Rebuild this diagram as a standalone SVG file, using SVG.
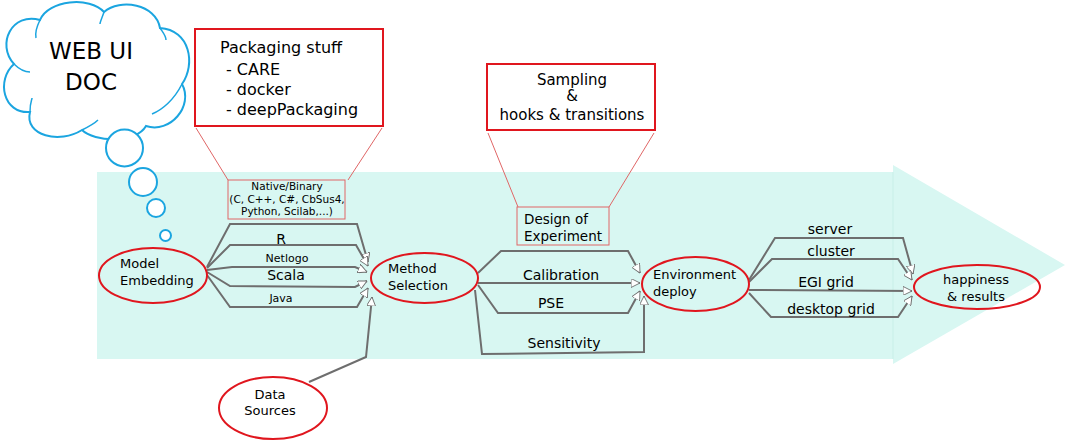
<svg xmlns="http://www.w3.org/2000/svg" width="1066" height="441" viewBox="0 0 1066 441">
<style>
text{font-family:"DejaVu Sans","Liberation Sans",sans-serif;fill:#000}
.node ellipse{fill:none;stroke:#e0161e;stroke-width:2}
.box{fill:none;stroke:#e0161e;stroke-width:2}
.thin{fill:none;stroke:#e06666;stroke-width:1}
.con{fill:none;stroke:#6e6e6e;stroke-width:2;marker-end:url(#ar)}
.bub{fill:#fff;stroke:#1ba5e0;stroke-width:2}
</style>
<defs>
<marker id="ar" viewBox="0 0 10 10" refX="10" refY="5" markerWidth="9" markerHeight="9" markerUnits="userSpaceOnUse" orient="auto">
<path d="M0,0 L10,5 L0,10 Z" fill="#fff" stroke="#6e6e6e" stroke-width="1"/>
</marker>
</defs>
<g id="bigarrow">
<rect x="97" y="172" width="796" height="187" fill="#d8f7f2"/>
<polygon points="893,165 1065,265 893,364" fill="#d8f7f2"/>
<line x1="893" y1="172" x2="893" y2="359" stroke="#c8efe8" stroke-width="1"/>
</g>
<g id="cloud">
<path class="bub" d="M30,112 C3,114 -4,80 14,64 C-4,44 12,12 40,20 C48,0 90,-4 104,12 C120,-2 156,4 160,28 C190,30 196,64 182,84 C194,106 170,134 146,126 C136,144 94,142 82,130 C60,144 24,136 30,112 Z"/>
<path fill="none" stroke="#1ba5e0" stroke-width="1.5" d="M14,64 C20,70 26,72 30,72 M40,20 C36,28 35,33 36,38 M104,12 C102,18 100,22 100,24 M160,28 C164,34 166,36 166,40 M182,84 C174,100 162,110 152,114 M82,130 C90,126 96,122 98,120 M30,112 C30,102 32,100 32,98"/>
<text x="91" y="59" font-size="23" text-anchor="middle">WEB UI</text>
<text x="91" y="90" font-size="23" text-anchor="middle">DOC</text>
<circle class="bub" cx="124.5" cy="148" r="18.5"/>
<circle class="bub" cx="143" cy="182" r="14"/>
<circle class="bub" cx="156" cy="208" r="9"/>
<circle class="bub" cx="165.5" cy="235.5" r="5.5"/>
</g>
<g id="packaging">
<rect class="box" x="195" y="29" width="188" height="97"/>
<text x="220" y="53" font-size="16">Packaging stuff</text>
<text x="226" y="75" font-size="16">- CARE</text>
<text x="226" y="95" font-size="16">- docker</text>
<text x="226" y="115" font-size="16">- deepPackaging</text>
<line class="thin" x1="196" y1="128" x2="228" y2="180"/>
<line class="thin" x1="382" y1="128" x2="348" y2="180"/>
</g>
<g id="native">
<rect class="thin" x="228" y="180" width="117" height="39"/>
<text x="287" y="190" font-size="10.5" text-anchor="middle">Native/Binary</text>
<text x="287" y="202.5" font-size="10.5" text-anchor="middle">(C, C++, C#, CbSus4,</text>
<text x="287" y="215" font-size="10.5" text-anchor="middle">Python, Scilab,...)</text>
</g>
<g id="sampling">
<rect class="box" x="487" y="64" width="168" height="66"/>
<text x="572" y="85" font-size="15" text-anchor="middle">Sampling</text>
<text x="572" y="101" font-size="15" text-anchor="middle">&amp;</text>
<text x="572" y="120" font-size="15" text-anchor="middle">hooks &amp; transitions</text>
<line class="thin" x1="488" y1="133" x2="518" y2="207"/>
<line class="thin" x1="654" y1="133" x2="609" y2="207"/>
</g>
<g id="doe">
<rect class="thin" x="517" y="207" width="92" height="38"/>
<text x="524" y="224" font-size="13.5">Design of</text>
<text x="524" y="241" font-size="13.5">Experiment</text>
</g>
<g id="connectors">
<path class="con" d="M207,267 L230,224 L357,224 L368,262"/>
<path class="con" d="M207,268 L230,245 L356,245 L368,266"/>
<path class="con" d="M207,270 L232,267 L355,267 L367,272"/>
<path class="con" d="M207,272 L230,286 L355,287 L367,281"/>
<path class="con" d="M207,275 L230,307 L357,307 L368,288"/>
<path class="con" d="M309,382 L366,357 L372,297"/>
<path class="con" d="M478,273 L501,251 L628,251 L640,273"/>
<path class="con" d="M478,283 L640,283"/>
<path class="con" d="M478,285 L498,313 L628,313 L640,291"/>
<path class="con" d="M475,290 L482,354 L644,352 L644,296"/>
<path class="con" d="M749,280 L775,238 L903,238 L913,274"/>
<path class="con" d="M749,282 L772,259 L898,259 L912,280"/>
<path class="con" d="M749,290 L912,291"/>
<path class="con" d="M749,293 L771,317 L898,317 L912,296"/>
</g>
<g id="labels">
<text x="281" y="244" font-size="14" text-anchor="middle">R</text>
<text x="287" y="262" font-size="11" text-anchor="middle">Netlogo</text>
<text x="286" y="280" font-size="14" text-anchor="middle">Scala</text>
<text x="281" y="302" font-size="11" text-anchor="middle">Java</text>
<text x="561" y="280" font-size="14" text-anchor="middle">Calibration</text>
<text x="551" y="308" font-size="14" text-anchor="middle">PSE</text>
<text x="564" y="348" font-size="14" text-anchor="middle">Sensitivity</text>
<text x="830" y="234" font-size="14" text-anchor="middle">server</text>
<text x="831" y="256" font-size="14" text-anchor="middle">cluster</text>
<text x="826" y="287" font-size="14" text-anchor="middle">EGI grid</text>
<text x="831" y="314" font-size="14" text-anchor="middle">desktop grid</text>
</g>
<g id="model" class="node">
<ellipse cx="153" cy="275.5" rx="54" ry="27.5"/>
<text x="120" y="268" font-size="13">Model</text>
<text x="120" y="285" font-size="13">Embedding</text>
</g>
<g id="method" class="node">
<ellipse cx="424.5" cy="278" rx="53.5" ry="25"/>
<text x="388" y="273" font-size="13">Method</text>
<text x="388" y="290" font-size="13">Selection</text>
</g>
<g id="env" class="node">
<ellipse cx="695.5" cy="284" rx="53.5" ry="27"/>
<text x="653" y="279" font-size="13">Environment</text>
<text x="653" y="296" font-size="13">deploy</text>
</g>
<g id="happy" class="node">
<ellipse cx="977" cy="287" rx="63" ry="22"/>
<text x="976" y="284" font-size="13" text-anchor="middle">happiness</text>
<text x="976" y="301" font-size="13" text-anchor="middle">&amp; results</text>
</g>
<g id="data" class="node">
<ellipse cx="273" cy="408" rx="54" ry="31"/>
<text x="270" y="399" font-size="13" text-anchor="middle">Data</text>
<text x="270" y="415" font-size="13" text-anchor="middle">Sources</text>
</g>
</svg>
